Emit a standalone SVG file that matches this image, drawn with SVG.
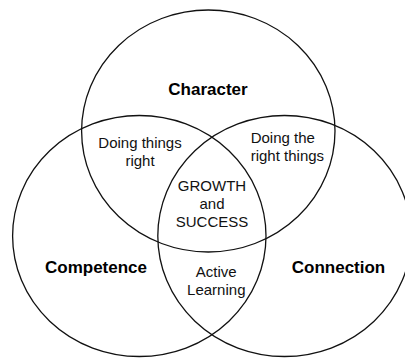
<svg xmlns="http://www.w3.org/2000/svg" width="405" height="358" viewBox="0 0 405 358">
  <style>
    .ring { fill: none; stroke: #111; stroke-width: 1.3; }
    .head { font-family: "Liberation Sans", Arial, sans-serif; font-size: 17px; font-weight: bold; fill: #000; text-anchor: middle; }
    .note { font-family: "Liberation Sans", Arial, sans-serif; font-size: 15px; fill: #111; text-anchor: middle; }
    .note.left { text-anchor: start; }
  </style>
  <rect width="405" height="358" fill="#fff"/>

  <!-- Three overlapping sets -->
  <g id="character">
    <ellipse class="ring" cx="208.3" cy="131" rx="126.7" ry="121"/>
    <text class="head" x="208" y="95">Character</text>
  </g>
  <g id="competence">
    <ellipse class="ring" cx="139.3" cy="236" rx="126.7" ry="120.5"/>
    <text class="head" x="96" y="273">Competence</text>
  </g>
  <g id="connection">
    <ellipse class="ring" cx="284.5" cy="236" rx="126.7" ry="120.5"/>
    <text class="head" x="338.5" y="273">Connection</text>
  </g>

  <!-- Overlap labels -->
  <g id="doing-things-right">
    <text class="note" x="140" y="148">Doing things</text>
    <text class="note" x="140" y="166">right</text>
  </g>
  <g id="doing-the-right-things">
    <text class="note left" x="250.7" y="142.5">Doing the</text>
    <text class="note left" x="250.7" y="160.5">right things</text>
  </g>
  <g id="growth-and-success">
    <text class="note" x="212" y="190.5">GROWTH</text>
    <text class="note" x="212" y="208.5">and</text>
    <text class="note" x="212" y="226.5">SUCCESS</text>
  </g>
  <g id="active-learning">
    <text class="note" x="216.3" y="277">Active</text>
    <text class="note" x="216.3" y="295">Learning</text>
  </g>
</svg>
